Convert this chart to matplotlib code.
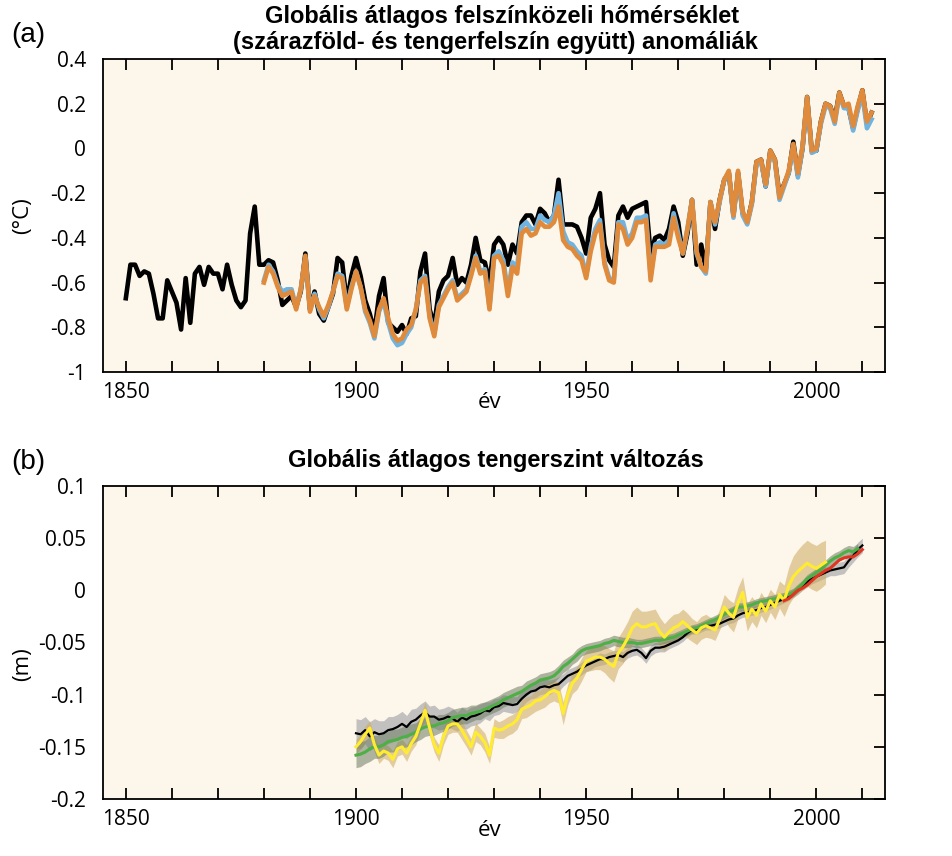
import numpy as np
import matplotlib
matplotlib.use('Agg')
import matplotlib.pyplot as plt
from matplotlib.ticker import FuncFormatter

plt.rcParams['axes.unicode_minus'] = False

# ---- (a) global mean surface temperature anomaly (degC) ----
years_black = list(range(1850, 2013))
temp_black = [
    -0.67, -0.52, -0.52, -0.57, -0.55, -0.56, -0.65, -0.76, -0.76, -0.59,
    -0.64, -0.69, -0.81, -0.58, -0.78, -0.56, -0.53, -0.61, -0.53, -0.56,
    -0.56, -0.63, -0.52, -0.61, -0.68, -0.71, -0.68, -0.38, -0.26, -0.52,
    -0.52, -0.50, -0.51, -0.59, -0.70, -0.68, -0.66, -0.71, -0.64, -0.47,
    -0.72, -0.64, -0.74, -0.77, -0.71, -0.65, -0.49, -0.51, -0.69, -0.57,
    -0.49, -0.57, -0.68, -0.74, -0.82, -0.66, -0.58, -0.78, -0.80, -0.82,
    -0.79, -0.83, -0.76, -0.75, -0.55, -0.47, -0.72, -0.79, -0.64, -0.59,
    -0.57, -0.49, -0.61, -0.58, -0.60, -0.52, -0.40, -0.50, -0.51, -0.60,
    -0.43, -0.40, -0.43, -0.52, -0.43, -0.47, -0.33, -0.30, -0.30, -0.34,
    -0.27, -0.29, -0.33, -0.30, -0.14, -0.34, -0.34, -0.34, -0.35, -0.40,
    -0.47, -0.31, -0.27, -0.20, -0.43, -0.50, -0.53, -0.30, -0.26, -0.31,
    -0.27, -0.26, -0.25, -0.24, -0.47, -0.40, -0.39, -0.41, -0.36, -0.26,
    -0.33, -0.48, -0.38, -0.23, -0.52, -0.43, -0.54, -0.24, -0.36, -0.23,
    -0.14, -0.11, -0.30, -0.11, -0.29, -0.33, -0.24, -0.06, -0.05, -0.17,
    -0.01, -0.05, -0.21, -0.16, -0.11, 0.03, -0.12, 0.00, 0.23, -0.01,
    -0.01, 0.12, 0.20, 0.19, 0.13, 0.25, 0.19, 0.18, 0.09, 0.18,
    0.26, 0.11, 0.16,
]
years_col = list(range(1880, 2013))
temp_orange = [
    -0.60, -0.53, -0.56, -0.62, -0.66, -0.65, -0.64, -0.72, -0.63, -0.48,
    -0.73, -0.66, -0.71, -0.75, -0.70, -0.64, -0.57, -0.58, -0.72, -0.63,
    -0.55, -0.62, -0.72, -0.77, -0.84, -0.72, -0.67, -0.76, -0.83, -0.86,
    -0.85, -0.81, -0.79, -0.72, -0.60, -0.58, -0.76, -0.84, -0.71, -0.67,
    -0.63, -0.60, -0.68, -0.66, -0.64, -0.57, -0.49, -0.56, -0.55, -0.72,
    -0.49, -0.48, -0.52, -0.66, -0.53, -0.56, -0.38, -0.36, -0.39, -0.38,
    -0.33, -0.35, -0.35, -0.33, -0.26, -0.41, -0.44, -0.45, -0.48, -0.50,
    -0.58, -0.46, -0.38, -0.34, -0.52, -0.59, -0.60, -0.34, -0.36, -0.43,
    -0.40, -0.33, -0.33, -0.32, -0.59, -0.44, -0.44, -0.44, -0.43, -0.31,
    -0.40, -0.47, -0.36, -0.23, -0.46, -0.53, -0.55, -0.24, -0.33, -0.23,
    -0.14, -0.10, -0.30, -0.10, -0.28, -0.33, -0.24, -0.06, -0.05, -0.16,
    -0.01, -0.05, -0.22, -0.16, -0.10, 0.02, -0.11, 0.01, 0.23, -0.01,
    0.00, 0.12, 0.20, 0.19, 0.12, 0.25, 0.19, 0.20, 0.10, 0.19,
    0.26, 0.12, 0.16,
]
temp_blue = [
    -0.59, -0.52, -0.55, -0.61, -0.64, -0.63, -0.63, -0.71, -0.63, -0.49,
    -0.72, -0.65, -0.72, -0.76, -0.71, -0.64, -0.56, -0.57, -0.71, -0.62,
    -0.55, -0.62, -0.73, -0.78, -0.85, -0.73, -0.68, -0.78, -0.85, -0.88,
    -0.87, -0.83, -0.80, -0.72, -0.59, -0.57, -0.75, -0.83, -0.70, -0.66,
    -0.62, -0.59, -0.67, -0.65, -0.63, -0.56, -0.48, -0.55, -0.54, -0.71,
    -0.48, -0.46, -0.50, -0.64, -0.51, -0.53, -0.35, -0.33, -0.36, -0.36,
    -0.30, -0.32, -0.33, -0.30, -0.20, -0.37, -0.42, -0.43, -0.46, -0.48,
    -0.57, -0.44, -0.36, -0.32, -0.51, -0.58, -0.59, -0.33, -0.33, -0.41,
    -0.38, -0.31, -0.31, -0.30, -0.57, -0.43, -0.42, -0.43, -0.41, -0.29,
    -0.38, -0.47, -0.36, -0.23, -0.47, -0.53, -0.56, -0.24, -0.34, -0.24,
    -0.14, -0.11, -0.31, -0.11, -0.30, -0.34, -0.25, -0.07, -0.06, -0.17,
    -0.02, -0.06, -0.23, -0.17, -0.11, 0.01, -0.13, 0.00, 0.22, -0.02,
    -0.01, 0.11, 0.19, 0.18, 0.11, 0.24, 0.18, 0.18, 0.08, 0.17,
    0.24, 0.09, 0.13,
]

# ---- (b) global mean sea level change (m) ----
years_sl_black = list(range(1900, 2011))
sl_black = [
    -0.137, -0.138, -0.134, -0.140, -0.136, -0.138, -0.137, -0.134, -0.133, -0.131,
    -0.128, -0.131, -0.126, -0.124, -0.120, -0.117, -0.121, -0.121, -0.124, -0.123,
    -0.121, -0.123, -0.126, -0.122, -0.124, -0.121, -0.120, -0.118, -0.115, -0.116,
    -0.112, -0.111, -0.108, -0.109, -0.110, -0.109, -0.104, -0.100, -0.097, -0.096,
    -0.093, -0.092, -0.093, -0.091, -0.090, -0.086, -0.082, -0.080, -0.078, -0.075,
    -0.072, -0.070, -0.068, -0.066, -0.066, -0.064, -0.063, -0.062, -0.064, -0.060,
    -0.058, -0.057, -0.060, -0.065, -0.058, -0.055, -0.055, -0.054, -0.052, -0.050,
    -0.048, -0.045, -0.041, -0.038, -0.038, -0.036, -0.034, -0.034, -0.033, -0.032,
    -0.030, -0.028, -0.027, -0.024, -0.022, -0.021, -0.020, -0.019, -0.017, -0.016,
    -0.014, -0.012, -0.010, -0.008, -0.006, -0.003, 0.000, 0.004, 0.008, 0.011,
    0.013, 0.015, 0.017, 0.019, 0.020, 0.021, 0.022, 0.028, 0.033, 0.039,
    0.043,
]
sl_black_err = [
    0.014, 0.014, 0.013, 0.014, 0.013, 0.013, 0.012, 0.013, 0.012, 0.012,
    0.012, 0.011, 0.012, 0.011, 0.011, 0.011, 0.010, 0.011, 0.010, 0.010,
    0.010, 0.010, 0.009, 0.010, 0.009, 0.009, 0.009, 0.009, 0.008, 0.009,
    0.008, 0.008, 0.008, 0.008, 0.008, 0.007, 0.008, 0.007, 0.007, 0.007,
    0.007, 0.007, 0.007, 0.006, 0.007, 0.006, 0.006, 0.006, 0.006, 0.006,
    0.006, 0.006, 0.005, 0.006, 0.005, 0.005, 0.005, 0.005, 0.005, 0.005,
    0.005, 0.005, 0.005, 0.005, 0.005, 0.005, 0.004, 0.005, 0.004, 0.004,
    0.004, 0.004, 0.004, 0.004, 0.004, 0.004, 0.004, 0.004, 0.004, 0.004,
    0.004, 0.004, 0.004, 0.004, 0.004, 0.004, 0.004, 0.004, 0.004, 0.004,
    0.004, 0.004, 0.004, 0.004, 0.004, 0.004, 0.004, 0.004, 0.005, 0.005,
    0.005, 0.005, 0.005, 0.005, 0.006, 0.006, 0.006, 0.006, 0.006, 0.007,
    0.007,
]
years_sl_green = list(range(1900, 2010))
sl_green = [
    -0.158, -0.157, -0.155, -0.152, -0.150, -0.150, -0.148, -0.145, -0.144, -0.143,
    -0.141, -0.140, -0.138, -0.136, -0.133, -0.131, -0.130, -0.130, -0.128, -0.127,
    -0.125, -0.122, -0.121, -0.120, -0.120, -0.118, -0.117, -0.116, -0.114, -0.112,
    -0.110, -0.108, -0.105, -0.103, -0.101, -0.099, -0.097, -0.094, -0.091, -0.089,
    -0.086, -0.085, -0.084, -0.082, -0.078, -0.073, -0.070, -0.066, -0.062, -0.058,
    -0.056, -0.055, -0.054, -0.053, -0.051, -0.050, -0.048, -0.049, -0.050, -0.050,
    -0.050, -0.051, -0.051, -0.050, -0.049, -0.048, -0.048, -0.047, -0.046, -0.045,
    -0.043, -0.041, -0.039, -0.037, -0.036, -0.034, -0.032, -0.030, -0.028, -0.026,
    -0.023, -0.021, -0.019, -0.016, -0.016, -0.015, -0.014, -0.012, -0.011, -0.010,
    -0.009, -0.008, -0.007, -0.006, -0.004, -0.002, 0.002, 0.006, 0.011, 0.014,
    0.017, 0.020, 0.024, 0.028, 0.031, 0.033, 0.036, 0.038, 0.037, 0.040,
]
sl_green_err = [
    0.012, 0.012, 0.011, 0.012, 0.011, 0.011, 0.011, 0.010, 0.011, 0.010,
    0.010, 0.010, 0.010, 0.009, 0.010, 0.009, 0.009, 0.009, 0.009, 0.008,
    0.008, 0.008, 0.008, 0.008, 0.008, 0.008, 0.007, 0.008, 0.007, 0.007,
    0.007, 0.007, 0.007, 0.007, 0.007, 0.007, 0.006, 0.007, 0.006, 0.006,
    0.006, 0.006, 0.006, 0.006, 0.006, 0.006, 0.006, 0.005, 0.006, 0.005,
    0.005, 0.005, 0.005, 0.005, 0.005, 0.005, 0.005, 0.005, 0.005, 0.005,
    0.004, 0.004, 0.004, 0.004, 0.004, 0.004, 0.004, 0.004, 0.004, 0.004,
    0.004, 0.004, 0.004, 0.004, 0.004, 0.004, 0.004, 0.004, 0.004, 0.004,
    0.004, 0.004, 0.004, 0.004, 0.004, 0.004, 0.004, 0.004, 0.004, 0.004,
    0.004, 0.004, 0.004, 0.004, 0.004, 0.004, 0.004, 0.004, 0.004, 0.004,
    0.004, 0.004, 0.005, 0.005, 0.005, 0.005, 0.005, 0.005, 0.005, 0.005,
]
years_sl_yellow = list(range(1900, 2003))
sl_yellow = [
    -0.150, -0.145, -0.138, -0.132, -0.148, -0.158, -0.154, -0.156, -0.162, -0.152,
    -0.150, -0.156, -0.147, -0.140, -0.128, -0.115, -0.132, -0.148, -0.156, -0.140,
    -0.130, -0.128, -0.128, -0.134, -0.142, -0.150, -0.136, -0.140, -0.146, -0.158,
    -0.132, -0.134, -0.133, -0.130, -0.128, -0.124, -0.114, -0.112, -0.110, -0.106,
    -0.105, -0.102, -0.098, -0.096, -0.098, -0.118, -0.100, -0.089, -0.084, -0.076,
    -0.068, -0.066, -0.064, -0.064, -0.066, -0.070, -0.073, -0.060, -0.054, -0.046,
    -0.036, -0.032, -0.035, -0.035, -0.033, -0.032, -0.040, -0.045, -0.040, -0.036,
    -0.034, -0.030, -0.034, -0.038, -0.041, -0.036, -0.034, -0.036, -0.038, -0.028,
    -0.016, -0.022, -0.026, -0.012, -0.002, -0.026, -0.018, -0.024, -0.013, -0.020,
    -0.010, -0.016, -0.004, -0.010, 0.004, 0.013, 0.018, 0.022, 0.026, 0.023,
    0.021, 0.024, 0.027,
]
sl_yellow_err = [
    0.007, 0.007, 0.008, 0.007, 0.007, 0.008, 0.007, 0.007, 0.008, 0.007,
    0.007, 0.008, 0.007, 0.008, 0.007, 0.008, 0.008, 0.007, 0.008, 0.008,
    0.008, 0.008, 0.008, 0.009, 0.008, 0.008, 0.009, 0.008, 0.009, 0.008,
    0.009, 0.008, 0.009, 0.009, 0.009, 0.009, 0.009, 0.010, 0.009, 0.010,
    0.009, 0.010, 0.010, 0.010, 0.010, 0.011, 0.010, 0.010, 0.011, 0.011,
    0.010, 0.011, 0.012, 0.012, 0.013, 0.014, 0.015, 0.015, 0.016, 0.016,
    0.016, 0.016, 0.015, 0.015, 0.014, 0.014, 0.014, 0.013, 0.013, 0.013,
    0.012, 0.012, 0.012, 0.011, 0.011, 0.011, 0.011, 0.010, 0.010, 0.010,
    0.012, 0.013, 0.014, 0.015, 0.015, 0.013, 0.012, 0.012, 0.011, 0.011,
    0.011, 0.012, 0.013, 0.015, 0.018, 0.020, 0.021, 0.022, 0.022, 0.022,
    0.022, 0.022, 0.021,
]
years_sl_red = list(range(1993, 2011))
sl_red = [
    -0.010, -0.008, -0.004, 0.000, 0.002, 0.005, 0.009, 0.013, 0.016, 0.019,
    0.021, 0.025, 0.029, 0.031, 0.032, 0.032, 0.035, 0.039,
]

bg = '#FDF6EA'
tick_font = 'Open Sans'

fig = plt.figure(figsize=(9.52, 8.56), dpi=100)
ax1 = fig.add_axes([0.108, 0.5654, 0.822, 0.3657])
ax2 = fig.add_axes([0.108, 0.0666, 0.822, 0.3657])

# panel a
ax1.plot(years_black, temp_black, color='black', lw=3.3, solid_joinstyle='round', zorder=3)
ax1.plot(years_col, temp_blue, color='#6FB3E0', lw=3.3, solid_joinstyle='round', zorder=4)
ax1.plot(years_col, temp_orange, color='#E08A3C', lw=3.3, solid_joinstyle='round', zorder=5)
ax1.set_ylim(-1, 0.4)
ax1.set_yticks([-1, -0.8, -0.6, -0.4, -0.2, 0, 0.2, 0.4])

# panel b
yb = np.array(sl_black); eb = np.array(sl_black_err)
yg = np.array(sl_green); eg = np.array(sl_green_err)
yy = np.array(sl_yellow); ey = np.array(sl_yellow_err)
ax2.fill_between(years_sl_black, yb - eb, yb + eb, color='#9C9EA3', alpha=0.6, lw=0, zorder=2)
ax2.fill_between(years_sl_yellow, yy - ey, yy + ey, color='#CDAA60', alpha=0.55, lw=0, zorder=2)
ax2.fill_between(years_sl_green, yg - eg, yg + eg, color='#6C7C62', alpha=0.55, lw=0, zorder=2)
ax2.plot(years_sl_black, sl_black, color='black', lw=1.6, zorder=3)
ax2.plot(years_sl_green, sl_green, color='#4DAF45', lw=2.2, zorder=4)
ax2.plot(years_sl_yellow, sl_yellow, color='#FFEC30', lw=2.2, zorder=5)
ax2.plot(years_sl_red, sl_red, color='#E03520', lw=2.2, zorder=6)
ax2.set_ylim(-0.2, 0.1)
ax2.set_yticks([-0.2, -0.15, -0.1, -0.05, 0, 0.05, 0.1])

for ax in (ax1, ax2):
    ax.set_facecolor(bg)
    ax.set_xlim(1845, 2015)
    ax.set_xticks(list(range(1850, 2011, 10)))
    ax.set_xticklabels([str(y) if y % 50 == 0 else '' for y in range(1850, 2011, 10)])
    ax.tick_params(axis='x', direction='in', length=8, width=1.3, top=True, pad=7,
                   labelsize=15)
    ax.tick_params(axis='y', direction='in', length=8, width=1.3, left=False, right=True,
                   pad=12, labelsize=15)
    ax.yaxis.set_major_formatter(FuncFormatter(lambda v, p: f'{v:g}'))
    for lab in ax.get_xticklabels() + ax.get_yticklabels():
        lab.set_fontfamily(tick_font)
    for s in ax.spines.values():
        s.set_linewidth(1.3)

title_font = ['Liberation Sans', 'DejaVu Sans']
fig.text(502 / 952, 1 - 16 / 856, 'Globális átlagos felszínközeli hőmérséklet',
         ha='center', va='center', fontsize=17, fontweight='bold', family=title_font)
fig.text(495 / 952, 1 - 43 / 856, '(szárazföld- és tengerfelszín együtt) anomáliák',
         ha='center', va='center', fontsize=17, fontweight='bold', family=title_font)
fig.text(496 / 952, 1 - 460 / 856, 'Globális átlagos tengerszint változás',
         ha='center', va='center', fontsize=17, fontweight='bold', family=title_font)

fig.text(28 / 952, 1 - 35 / 856, '(a)', ha='center', va='center', fontsize=20, family=title_font)
fig.text(28 / 952, 1 - 462 / 856, '(b)', ha='center', va='center', fontsize=20, family=title_font)

fig.text(490 / 952, 1 - 402 / 856, 'év', ha='center', va='center', fontsize=16, family=tick_font)
fig.text(490 / 952, 1 - 831 / 856, 'év', ha='center', va='center', fontsize=16, family=tick_font)
fig.text(23 / 952, 1 - 216 / 856, '(°C)', ha='center', va='center', rotation=90,
         fontsize=16, family=tick_font)
fig.text(23 / 952, 1 - 664 / 856, '(m)', ha='center', va='center', rotation=90,
         fontsize=16, family=tick_font)

fig.savefig('out.png', dpi=100, facecolor='white')
